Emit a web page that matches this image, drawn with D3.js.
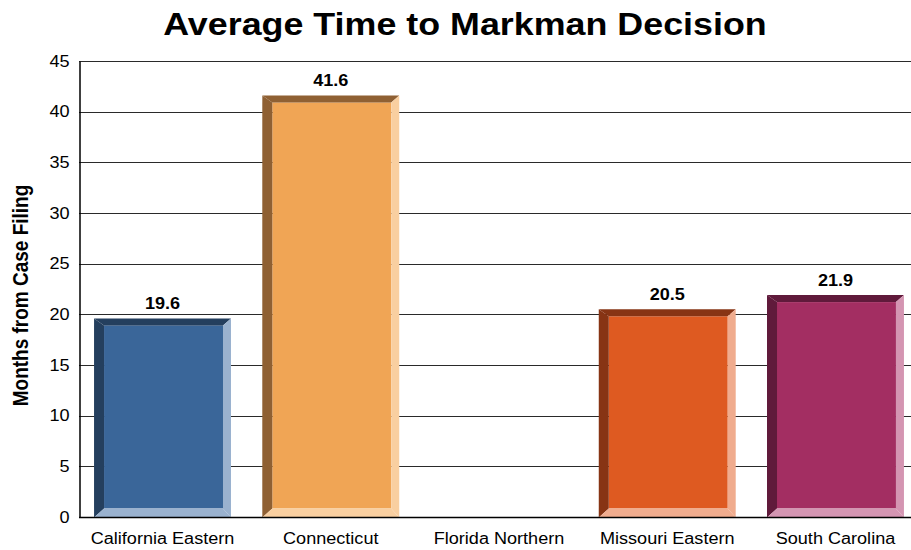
<!DOCTYPE html>
<html>
<head>
<meta charset="utf-8">
<script src="https://cdn.jsdelivr.net/npm/d3@7/dist/d3.min.js"></script>
<style>
  html, body { margin: 0; padding: 0; background: #fff; }
  svg { display: block; font-family: "Liberation Sans", Arial, sans-serif; }
</style>
</head>
<body>
<svg id="chart" width="911" height="550"></svg>
<script>
const categories = ["California Eastern", "Connecticut", "Florida Northern", "Missouri Eastern", "South Carolina"];
const values = [19.6, 41.6, null, 20.5, 21.9];
const yTicks = [0, 5, 10, 15, 20, 25, 30, 35, 40, 45];
const faceColors = ["#3A6699", "#F0A555", "#888888", "#DE5A21", "#A32E62"];
const darkColors = ["#243F5E", "#8F6033", "#555555", "#873414", "#601A3B"];
const lightColors = ["#9AB2CF", "#F9CFA0", "#CCCCCC", "#F0AC8E", "#D495B2"];

(function () {
const svg = d3.select("#chart");
const axisX = 79, plotTop = 61, plotBottom = 517, rightEdge = 911;
const SX = 1.13; // horizontal text stretch seen in the reference

const y = d3.scaleLinear().domain([0, 45]).range([plotBottom, plotTop]);
const x = d3.scaleBand().domain(categories).range([78.4, 919.6]).paddingInner(0.186).paddingOuter(0.093);

function stretchedText(parent, tx, ty, str, size, weight, anchor, extra, sx) {
  return parent.append("text")
    .attr("transform", `translate(${tx},${ty}) scale(${sx || SX},1)` + (extra || ""))
    .attr("text-anchor", anchor || "middle")
    .attr("font-size", size).attr("font-weight", weight || "normal")
    .attr("fill", "#000")
    .text(str);
}

// Title
stretchedText(svg, 465, 35, "Average Time to Markman Decision", 32, "bold", "middle", "", 1.12);

// Gridlines
svg.append("g").selectAll("line").data(yTicks.filter(d => d > 0)).join("line")
  .attr("x1", axisX).attr("x2", rightEdge)
  .attr("y1", d => Math.round(y(d)) + 0.5).attr("y2", d => Math.round(y(d)) + 0.5)
  .attr("stroke", "#2a2a2a").attr("stroke-width", 1);

// Y axis
const yAxis = svg.append("g")
  .attr("transform", `translate(${axisX + 0.5},0)`)
  .call(d3.axisLeft(y).tickValues(yTicks).tickSize(0).tickPadding(10).tickFormat(d3.format("d")));
yAxis.select(".domain").attr("stroke", "#000").attr("stroke-width", 1.5);
yAxis.selectAll(".tick text")
  .attr("font-size", 16).attr("fill", "#000")
  .attr("font-family", "Liberation Sans, Arial, sans-serif")
  .attr("transform", function () {
    const xx = +d3.select(this).attr("x");
    return `translate(${xx},0) scale(${SX},1) translate(${-xx},0)`;
  });

// Y axis title
stretchedText(svg, 28, 295.5, "Months from Case Filing", 19, "bold", "middle", " rotate(-90)");

// Bars with bevel
const L = 10, T = 7, R = 8, B = 9;
const bars = svg.append("g");
const poly = pts => pts.map(p => p.join(",")).join(" ");
categories.forEach((c, i) => {
  const v = values[i];
  if (v == null) return;
  const x0 = x(c), x1 = x(c) + x.bandwidth();
  const y0 = y(v), y1 = y(0) + 0.5;
  const g = bars.append("g");
  g.append("rect").attr("x", x0 + L).attr("y", y0 + T)
    .attr("width", x1 - x0 - L - R).attr("height", y1 - y0 - T - B)
    .attr("fill", faceColors[i]);
  g.append("polygon").attr("fill", darkColors[i])
    .attr("points", poly([[x0, y0], [x1, y0], [x1 - R, y0 + T], [x0 + L, y0 + T]]));
  g.append("polygon").attr("fill", darkColors[i])
    .attr("points", poly([[x0, y0], [x0 + L, y0 + T], [x0 + L, y1 - B], [x0, y1]]));
  g.append("polygon").attr("fill", lightColors[i])
    .attr("points", poly([[x1, y0], [x1, y1], [x1 - R, y1 - B], [x1 - R, y0 + T]]));
  g.append("polygon").attr("fill", lightColors[i])
    .attr("points", poly([[x0, y1], [x1, y1], [x1 - R, y1 - B], [x0 + L, y1 - B]]));
  stretchedText(svg, (x0 + x1) / 2, y0 - 9, v.toFixed(1), 16, "bold");
});

// X axis
const xAxis = svg.append("g")
  .attr("transform", `translate(0,${plotBottom + 0.5})`)
  .call(d3.axisBottom(x).tickSize(0).tickPadding(15));
xAxis.select(".domain").attr("d", `M${axisX},0H${rightEdge}`).attr("stroke", "#000").attr("stroke-width", 1.5);
xAxis.selectAll(".tick text")
  .attr("font-size", 16).attr("fill", "#000")
  .attr("font-family", "Liberation Sans, Arial, sans-serif")
  .attr("transform", `scale(${SX},1)`);
})();
</script>
</body>
</html>
